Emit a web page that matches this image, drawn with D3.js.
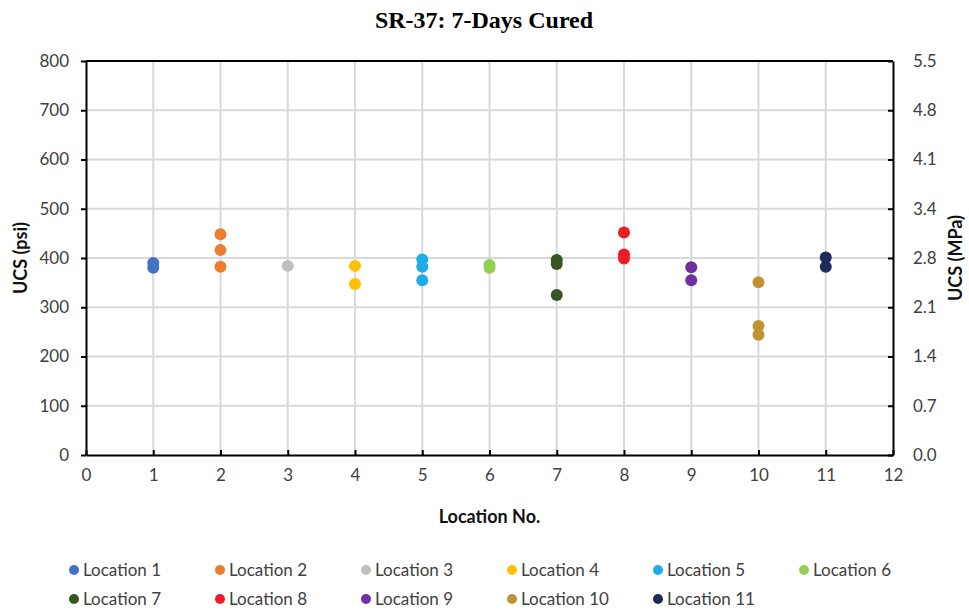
<!DOCTYPE html>
<html>
<head>
<meta charset="utf-8">
<script src="https://cdn.jsdelivr.net/npm/d3@7"></script>
<style>
  body { margin: 0; background: #fff; }
  text { font-family: Lato, "Open Sans", sans-serif; }
</style>
</head>
<body>
<div id="chart"></div>
<script>
// location numbers and measured UCS values (psi) per location
var locations = [1, 2, 3, 4, 5, 6, 7, 8, 9, 10, 11];
var ucsValues = [
  [390, 380],
  [448, 416, 382],
  [384],
  [384, 347],
  [397, 382, 355],
  [386, 380],
  [396, 388, 325],
  [452, 407, 399],
  [381, 355],
  [351, 262, 244],
  [401, 382]
];
var seriesNames = locations.map(function (d) { return "Location " + d; });
var seriesColors = ["#4472c4", "#ed7d31", "#bfbfbf", "#ffc000", "#1fade8", "#92d050",
                    "#375623", "#ee1c25", "#7030a0", "#bf9430", "#1f2a5c"];
var xTicks = d3.range(0, 13);
var yTicks = [0, 100, 200, 300, 400, 500, 600, 700, 800];

var width = 969, height = 611;
var margin = {top: 61, right: 76, bottom: 156, left: 86};

var svg = d3.select("#chart").append("svg")
  .attr("width", width).attr("height", height);

var x = d3.scaleLinear().domain([0, 12]).range([margin.left, width - margin.right]);
var y = d3.scaleLinear().domain([0, 800]).range([height - margin.bottom, margin.top]);

// gridlines
svg.append("g").selectAll("line.v")
  .data(xTicks.slice(1, -1)).enter().append("line")
    .attr("x1", function (d) { return x(d); }).attr("x2", function (d) { return x(d); })
    .attr("y1", y(0)).attr("y2", y(800))
    .attr("stroke", "#d9d9d9").attr("stroke-width", 2);
svg.append("g").selectAll("line.h")
  .data(yTicks.slice(1, -1)).enter().append("line")
    .attr("x1", x(0)).attr("x2", x(12))
    .attr("y1", function (d) { return y(d); }).attr("y2", function (d) { return y(d); })
    .attr("stroke", "#d9d9d9").attr("stroke-width", 2);

// axes
var xAxis = svg.append("g").attr("transform", "translate(0," + y(0) + ")")
  .call(d3.axisBottom(x).tickValues(xTicks).tickSizeInner(-5).tickSizeOuter(0).tickPadding(14));
var yAxis = svg.append("g").attr("transform", "translate(" + x(0) + ",0)")
  .call(d3.axisLeft(y).tickValues(yTicks).tickSizeInner(5).tickSizeOuter(0).tickPadding(12));
var yAxisR = svg.append("g").attr("transform", "translate(" + x(12) + ",0)")
  .call(d3.axisRight(y).tickValues(yTicks).tickSizeInner(-5).tickSizeOuter(0).tickPadding(20)
    .tickFormat(function (d) { return (d * 0.00689476).toFixed(1); }));

[xAxis, yAxis, yAxisR].forEach(function (a) {
  a.select(".domain").attr("stroke", "#000").attr("stroke-width", 2);
  a.selectAll(".tick line").attr("stroke", "#000").attr("stroke-width", 2);
  a.selectAll(".tick text").attr("fill", "#404040")
    .style("font-size", "17px").style("font-family", "Lato, sans-serif");
});
xAxis.selectAll(".tick text").attr("dy", "0.71em");

// top border
svg.append("line")
  .attr("x1", x(0)).attr("x2", x(12)).attr("y1", y(800)).attr("y2", y(800))
  .attr("stroke", "#000").attr("stroke-width", 2);

// points
var points = [];
ucsValues.forEach(function (vals, i) {
  vals.forEach(function (v) { points.push({loc: locations[i], v: v, i: i}); });
});
svg.append("g").selectAll("circle")
  .data(points).enter().append("circle")
    .attr("cx", function (d) { return x(d.loc); })
    .attr("cy", function (d) { return y(d.v); })
    .attr("r", 6)
    .attr("fill", function (d) { return seriesColors[d.i]; });

// titles
svg.append("text").attr("x", 484).attr("y", 28)
  .attr("text-anchor", "middle")
  .style("font-family", "'Liberation Serif', 'Times New Roman', serif")
  .style("font-weight", "bold").style("font-size", "24px")
  .text("SR-37: 7-Days Cured");
svg.append("text").attr("x", x(6)).attr("y", 523)
  .attr("text-anchor", "middle")
  .style("font-weight", "bold").style("font-size", "18px").attr("fill", "#111")
  .text("Location No.");
svg.append("text").attr("transform", "translate(27," + y(400) + ") rotate(-90)")
  .attr("text-anchor", "middle")
  .style("font-weight", "bold").style("font-size", "18px").attr("fill", "#111")
  .text("UCS (psi)");
svg.append("text").attr("transform", "translate(962," + y(400) + ") rotate(-90)")
  .attr("text-anchor", "middle")
  .style("font-weight", "bold").style("font-size", "18px").attr("fill", "#111")
  .text("UCS (MPa)");

// legend
var legend = svg.append("g").selectAll("g")
  .data(seriesNames).enter().append("g")
    .attr("transform", function (d, i) {
      return "translate(" + (74 + (i % 6) * 146) + "," + (570 + Math.floor(i / 6) * 29) + ")";
    });
legend.append("circle").attr("r", 5)
  .attr("fill", function (d, i) { return seriesColors[i]; });
legend.append("text").attr("x", 9).attr("dy", "0.35em")
  .style("font-size", "17px").attr("fill", "#404040")
  .text(function (d) { return d; });
</script>
</body>
</html>
